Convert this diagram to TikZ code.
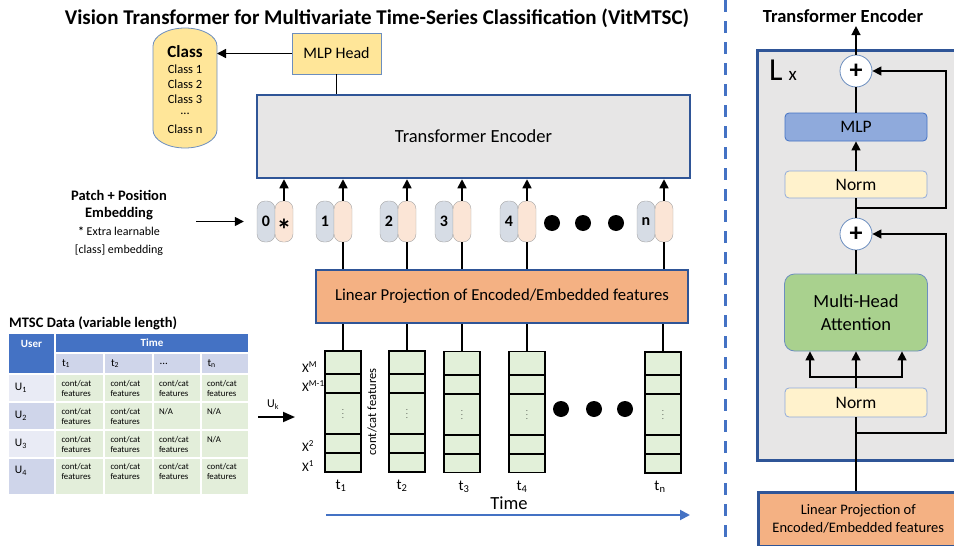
\documentclass[tikz,border=0pt]{standalone}
\usepackage{fontspec}
\setmainfont{Carlito}
\usetikzlibrary{arrows.meta}
\definecolor{darkblue}{HTML}{2F5597}
\definecolor{edgeblue}{HTML}{6C8EBF}
\definecolor{midblue}{HTML}{4472C4}
\definecolor{lightyellow}{HTML}{FFE699}
\definecolor{paleyellow}{HTML}{FFF2CC}
\definecolor{encgray}{HTML}{E7E6E6}
\definecolor{projorange}{HTML}{F4B183}
\definecolor{featgreen}{HTML}{E2F0D9}
\definecolor{cellgreen}{HTML}{E3EEDA}
\definecolor{tokgray}{HTML}{D6DCE5}
\definecolor{tokpeach}{HTML}{FBE5D6}
\definecolor{mlpblue}{HTML}{8FAADC}
\definecolor{attgreen}{HTML}{A9D18E}
\definecolor{rowlight}{HTML}{E9EBF5}
\definecolor{rowdark}{HTML}{CFD5EA}

\begin{document}
\begin{tikzpicture}[x=1pt,y=-1pt,
	arr/.style={-{Triangle[length=9pt,width=9pt]}, line width=1.5pt},
	wire/.style={line width=1.5pt},
	bigbox/.style={draw=darkblue, line width=2.5pt, inner sep=0},
	posbox/.style={draw=gray!70, fill=tokgray, rounded corners=8pt, minimum width=18pt, minimum height=41pt, inner sep=0, font=\bfseries\fontsize{16}{16}\selectfont},
	embbox/.style={posbox, fill=tokpeach},
	blob/.style={circle, fill=black, minimum size=16pt, inner sep=0},
	featcol/.style={draw=black, fill=featgreen, line width=1.8pt, minimum width=36pt, minimum height=121pt, inner sep=0, outer sep=0},
	rowline/.style={line width=2pt},
	clsitem/.style={font=\fontsize{12.5}{15}\selectfont, inner sep=0},
	tcell/.style={draw=white, line width=1.2pt, anchor=north west, inner sep=0, outer sep=0},
	hlab/.style={font=\bfseries\fontsize{11}{13}\selectfont, text=white},
	ttext/.style={font=\fontsize{11}{13}\selectfont, align=left, text width=35pt},
	utext/.style={font=\fontsize{11.5}{13}\selectfont, align=left, text width=33pt},
	dtext/.style={font=\fontsize{8.8}{10}\selectfont, align=left, text width=36pt},
	rbox/.style={draw=midblue, line width=0.8pt, rounded corners=4pt, font=\fontsize{17.5}{17.5}\selectfont},
	addc/.style={circle, draw=edgeblue, fill=white, line width=0.8pt, minimum size=32pt, inner sep=0, font=\bfseries\fontsize{26}{26}\selectfont}]

	\useasboundingbox (0,0) rectangle (954,546);

	\node[font=\bfseries\fontsize{21}{24}\selectfont] (title) at (377,18) {Vision Transformer for Multivariate Time-Series Classification (VitMTSC)};
	\draw[midblue, line width=3pt, dash pattern=on 12pt off 9pt] (725,0) -- (725,546);

	\draw[fill=lightyellow, draw=edgeblue, line width=0.8pt] (153,46) arc[start angle=180, end angle=0, x radius=32pt, y radius=18pt] -- (217,130) arc[start angle=0, end angle=-180, x radius=32pt, y radius=18pt] -- cycle;
	\node[font=\bfseries\fontsize{17}{17}\selectfont, inner sep=0] (clshead) at (185,52) {Class};
	\node[clsitem] (cls1) at (185,69) {Class 1};
	\node[clsitem] (cls2) at (185,84) {Class 2};
	\node[clsitem] (cls3) at (185,99) {Class 3};
	\node[clsitem] (clsdots) at (185,114) {...};
	\node[clsitem] (clsn) at (185,129) {Class n};
	\coordinate (clsedge) at (217,54);

	\node[draw=edgeblue, fill=lightyellow, line width=0.8pt, minimum width=89pt, minimum height=41pt, font=\fontsize{16}{16}\selectfont] (mlphead) at (336.5,53.5) {MLP Head};
	\draw[arr] (mlphead.west) -- (mlphead.west -| clsedge);

	\node[bigbox, fill=encgray, minimum width=433pt, minimum height=83pt, font=\fontsize{18.5}{18.5}\selectfont] (encoder) at (473.5,136.5) {Transformer Encoder};
	\draw[wire] (mlphead.south) -- (mlphead.south |- encoder.north);

	\node[font=\bfseries\fontsize{14.5}{17}\selectfont, align=center] (patch) at (119,205) {Patch + Position\\Embedding};
	\node[font=\fontsize{12}{18}\selectfont, align=center] (extra) at (119,241) {\textbf{*} Extra learnable\\{[}class{]} embedding};

	\node[posbox] (pos0) at (266,221.5) {0};
	\node[embbox] (emb0) at (284,221.5) {\fontsize{30}{30}\selectfont\raisebox{-19pt}[0pt][0pt]{*}};
	\node[posbox] (pos1) at (325,221.5) {1};
	\node[embbox] (emb1) at (343,221.5) {};
	\node[posbox] (pos2) at (389,221.5) {2};
	\node[embbox] (emb2) at (407,221.5) {};
	\node[posbox] (pos3) at (444,221.5) {3};
	\node[embbox] (emb3) at (462,221.5) {};
	\node[posbox] (pos4) at (509,221.5) {4};
	\node[embbox] (emb4) at (527,221.5) {};
	\node[posbox] (posn) at (646,221.5) {n};
	\node[embbox] (embn) at (664,221.5) {};

	\node[blob] (tdot1) at (552,223) {};
	\node[blob] (tdot2) at (583,223) {};
	\node[blob] (tdot3) at (616,223) {};

	\draw[arr] ([xshift=26pt]patch.east |- pos0.west) -- ([xshift=-13pt]pos0.west);

	\draw[arr] (emb0.north) -- (emb0.north |- encoder.south);
	\draw[arr] (emb1.north) -- (emb1.north |- encoder.south);
	\draw[arr] (emb2.north) -- (emb2.north |- encoder.south);
	\draw[arr] (emb3.north) -- (emb3.north |- encoder.south);
	\draw[arr] (emb4.north) -- (emb4.north |- encoder.south);
	\draw[arr] (embn.north) -- (embn.north |- encoder.south);

	\node[bigbox, fill=projorange, minimum width=372pt, minimum height=53pt, font=\fontsize{16.7}{16.7}\selectfont] (linproj) at (502,296.5) {Linear Projection of Encoded/Embedded features};

	\draw[wire] (linproj.north -| emb1.south) -- (emb1.south);
	\draw[wire] (linproj.north -| emb2.south) -- (emb2.south);
	\draw[wire] (linproj.north -| emb3.south) -- (emb3.south);
	\draw[wire] (linproj.north -| emb4.south) -- (emb4.south);
	\draw[wire] (linproj.north -| embn.south) -- (embn.south);

	\node[featcol] (col1) at (343,411.5) {\fontsize{7}{7}\selectfont$\vdots$};
	\node[featcol] (col2) at (407,411.5) {\fontsize{7}{7}\selectfont$\vdots$};
	\node[featcol] (col3) at (462,412) {\fontsize{7}{7}\selectfont$\vdots$};
	\node[featcol] (col4) at (527,412) {\fontsize{7}{7}\selectfont$\vdots$};
	\node[featcol] (coln) at (663,412.5) {\fontsize{7}{7}\selectfont$\vdots$};

	\draw[rowline] ([yshift=-23pt]col1.north west) -- ([yshift=-23pt]col1.north east);
	\draw[rowline] ([yshift=-42pt]col1.north west) -- ([yshift=-42pt]col1.north east);
	\draw[rowline] ([yshift=-83pt]col1.north west) -- ([yshift=-83pt]col1.north east);
	\draw[rowline] ([yshift=-102pt]col1.north west) -- ([yshift=-102pt]col1.north east);
	\draw[rowline] ([yshift=-23pt]col2.north west) -- ([yshift=-23pt]col2.north east);
	\draw[rowline] ([yshift=-42pt]col2.north west) -- ([yshift=-42pt]col2.north east);
	\draw[rowline] ([yshift=-83pt]col2.north west) -- ([yshift=-83pt]col2.north east);
	\draw[rowline] ([yshift=-102pt]col2.north west) -- ([yshift=-102pt]col2.north east);
	\draw[rowline] ([yshift=-23pt]col3.north west) -- ([yshift=-23pt]col3.north east);
	\draw[rowline] ([yshift=-42pt]col3.north west) -- ([yshift=-42pt]col3.north east);
	\draw[rowline] ([yshift=-83pt]col3.north west) -- ([yshift=-83pt]col3.north east);
	\draw[rowline] ([yshift=-102pt]col3.north west) -- ([yshift=-102pt]col3.north east);
	\draw[rowline] ([yshift=-23pt]col4.north west) -- ([yshift=-23pt]col4.north east);
	\draw[rowline] ([yshift=-42pt]col4.north west) -- ([yshift=-42pt]col4.north east);
	\draw[rowline] ([yshift=-83pt]col4.north west) -- ([yshift=-83pt]col4.north east);
	\draw[rowline] ([yshift=-102pt]col4.north west) -- ([yshift=-102pt]col4.north east);
	\draw[rowline] ([yshift=-23pt]coln.north west) -- ([yshift=-23pt]coln.north east);
	\draw[rowline] ([yshift=-42pt]coln.north west) -- ([yshift=-42pt]coln.north east);
	\draw[rowline] ([yshift=-83pt]coln.north west) -- ([yshift=-83pt]coln.north east);
	\draw[rowline] ([yshift=-102pt]coln.north west) -- ([yshift=-102pt]coln.north east);

	\draw[wire] (linproj.south -| col1.north) -- (col1.north);
	\draw[wire] (linproj.south -| col2.north) -- (col2.north);
	\draw[wire] (linproj.south -| col3.north) -- (col3.north);
	\draw[wire] (linproj.south -| col4.north) -- (col4.north);
	\draw[wire] (linproj.south -| coln.north) -- (coln.north);

	\node[blob] (cdot1) at (561,409) {};
	\node[blob] (cdot2) at (594,409) {};
	\node[blob] (cdot3) at (625,409) {};

	\node[anchor=west, inner sep=0, font=\fontsize{13}{13}\selectfont] (xM) at (302,367) {X\textsuperscript{M}};
	\node[anchor=west, inner sep=0, font=\fontsize{13}{13}\selectfont] (xM1) at (302,386) {X\textsuperscript{M-1}};
	\node[anchor=west, inner sep=0, font=\fontsize{13}{13}\selectfont] (x2) at (302,446) {X\textsuperscript{2}};
	\node[anchor=west, inner sep=0, font=\fontsize{13}{13}\selectfont] (x1) at (302,466) {X\textsuperscript{1}};
	\node[rotate=90, font=\fontsize{12.5}{12.5}\selectfont] (contcat) at (372,412) {cont/cat features};

	\node[font=\fontsize{15}{15}\selectfont] (t1) at (341,486) {t\textsubscript{1}};
	\node[font=\fontsize{15}{15}\selectfont] (t2) at (402,486) {t\textsubscript{2}};
	\node[font=\fontsize{15}{15}\selectfont] (t3) at (464,487) {t\textsubscript{3}};
	\node[font=\fontsize{15}{15}\selectfont] (t4) at (522,487) {t\textsubscript{4}};
	\node[font=\fontsize{15}{15}\selectfont] (tn) at (660,487) {t\textsubscript{n}};

	\coordinate (tstart) at (326,515);
	\coordinate (tend) at (690,515);
	\draw[midblue, line width=2pt, -{Triangle[length=10pt,width=10pt]}] (tstart) -- (tend);
	\node[font=\fontsize{18.5}{18.5}\selectfont] (timelab) at (509,503) {Time};

	\coordinate (ukstart) at (258,417);
	\coordinate (ukend) at (295,417);
	\draw[line width=1.8pt, -{Triangle[length=12pt,width=10pt]}] (ukstart) -- (ukend);
	\node[font=\fontsize{12}{12}\selectfont] (uk) at (273,405) {U\textsubscript{k}};

	\node[font=\bfseries\fontsize{14.5}{16}\selectfont, anchor=west, inner sep=0] (mtsc) at (9,323) {MTSC Data (variable length)};

	\node[tcell, fill=midblue, minimum width=47pt, minimum height=41pt, label={[hlab, anchor=north, yshift=-4pt]north:User}] (user) at (8,333) {};
	\node[tcell, fill=midblue, minimum width=194pt, minimum height=20pt, hlab] (time) at (55,333) {Time};
	\node[tcell, fill=rowdark, minimum width=49pt, minimum height=21pt, ttext] (th1) at (55,353) {t\textsubscript{1}};
	\node[tcell, fill=rowdark, minimum width=49pt, minimum height=21pt, ttext] (th2) at (104,353) {t\textsubscript{2}};
	\node[tcell, fill=rowdark, minimum width=48pt, minimum height=21pt, ttext] (th3) at (153,353) {...};
	\node[tcell, fill=rowdark, minimum width=48pt, minimum height=21pt, ttext] (th4) at (201,353) {t\textsubscript{n}};

	\node[tcell, fill=rowlight, minimum width=47pt, minimum height=28pt, utext] (u1) at (8,374) {U\textsubscript{1}};
	\node[tcell, fill=cellgreen, minimum width=49pt, minimum height=28pt, dtext] (c11) at (55,374) {cont/cat\\features};
	\node[tcell, fill=cellgreen, minimum width=49pt, minimum height=28pt, dtext] (c12) at (104,374) {cont/cat\\features};
	\node[tcell, fill=cellgreen, minimum width=48pt, minimum height=28pt, dtext] (c13) at (153,374) {cont/cat\\features};
	\node[tcell, fill=cellgreen, minimum width=48pt, minimum height=28pt, dtext] (c14) at (201,374) {cont/cat\\features};

	\node[tcell, fill=rowdark, minimum width=47pt, minimum height=28pt, utext] (u2) at (8,402) {U\textsubscript{2}};
	\node[tcell, fill=cellgreen, minimum width=49pt, minimum height=28pt, dtext] (c21) at (55,402) {cont/cat\\features};
	\node[tcell, fill=cellgreen, minimum width=49pt, minimum height=28pt, dtext] (c22) at (104,402) {cont/cat\\features};
	\node[tcell, fill=cellgreen, minimum width=48pt, minimum height=28pt, dtext] (c23) at (153,402) {N/A\\\mbox{}};
	\node[tcell, fill=cellgreen, minimum width=48pt, minimum height=28pt, dtext] (c24) at (201,402) {N/A\\\mbox{}};

	\node[tcell, fill=rowlight, minimum width=47pt, minimum height=28pt, utext] (u3) at (8,430) {U\textsubscript{3}};
	\node[tcell, fill=cellgreen, minimum width=49pt, minimum height=28pt, dtext] (c31) at (55,430) {cont/cat\\features};
	\node[tcell, fill=cellgreen, minimum width=49pt, minimum height=28pt, dtext] (c32) at (104,430) {cont/cat\\features};
	\node[tcell, fill=cellgreen, minimum width=48pt, minimum height=28pt, dtext] (c33) at (153,430) {cont/cat\\features};
	\node[tcell, fill=cellgreen, minimum width=48pt, minimum height=28pt, dtext] (c34) at (201,430) {N/A\\\mbox{}};

	\node[tcell, fill=rowdark, minimum width=47pt, minimum height=37pt, utext] (u4) at (8,458) {U\textsubscript{4}\\\mbox{}};
	\node[tcell, fill=cellgreen, minimum width=49pt, minimum height=37pt, dtext] (c41) at (55,458) {cont/cat\\features\\\mbox{}};
	\node[tcell, fill=cellgreen, minimum width=49pt, minimum height=37pt, dtext] (c42) at (104,458) {cont/cat\\features\\\mbox{}};
	\node[tcell, fill=cellgreen, minimum width=48pt, minimum height=37pt, dtext] (c43) at (153,458) {cont/cat\\features\\\mbox{}};
	\node[tcell, fill=cellgreen, minimum width=48pt, minimum height=37pt, dtext] (c44) at (201,458) {cont/cat\\features\\\mbox{}};

	\node[bigbox, fill=encgray, minimum width=202pt, minimum height=410pt, anchor=north west] (block) at (756,49) {};
	\node[font=\bfseries\fontsize{18.5}{18.5}\selectfont] (enctitle) at (843,16) {Transformer Encoder};
	\node[anchor=west, inner sep=0, font=\fontsize{32}{32}\selectfont] (lx) at (769,70) {L\hspace{6pt}{\fontsize{19}{19}\selectfont x}};

	\node[addc] (add2) at (856,71) {+};
	\node[rbox, fill=mlpblue, minimum width=142pt, minimum height=28pt] (mlp) at (856,127) {MLP};
	\node[rbox, fill=paleyellow, draw=mlpblue, minimum width=142pt, minimum height=27pt] (norm2) at (856,184.5) {Norm};
	\node[addc] (add1) at (856,234) {+};
	\node[rbox, fill=attgreen, draw=edgeblue, rounded corners=10pt, minimum width=143pt, minimum height=77pt, align=center, font=\fontsize{18.5}{23}\selectfont] (mha) at (856,312.5) {Multi-Head\\Attention};
	\node[rbox, fill=paleyellow, draw=mlpblue, minimum width=142pt, minimum height=29pt] (norm1) at (856,402.5) {Norm};
	\node[bigbox, fill=projorange, minimum width=200pt, minimum height=54pt, anchor=north west, align=center, font=\fontsize{14.5}{18}\selectfont] (projsmall) at (757,491) {Linear Projection of\\Encoded/Embedded features};

	\coordinate (skip2) at (856,208);
	\coordinate (skip1) at (856,433);
	\coordinate (split) at (856,377);

	\draw[arr] (add2.north) -- (add2.north |- enctitle.south);
	\draw[wire] (mlp.north) -- (add2.south);
	\draw[arr] (norm2.north) -- (mlp.south);
	\draw[wire] (add1.north) -- (norm2.south);
	\draw[arr] (skip2) -- ++(90,0) |- (add2.east);
	\draw[wire] (mha.north) -- (add1.south);
	\draw[arr] (skip1) -- ++(90,0) |- (add1.east);
	\draw[arr] (norm1.north) -- (mha.south);
	\draw[arr] (split) -| ([xshift=-46pt]mha.south);
	\draw[arr] (split) -| ([xshift=46pt]mha.south);
	\draw[wire] (projsmall.north -| norm1.south) -- (norm1.south);
\end{tikzpicture}
\end{document}
